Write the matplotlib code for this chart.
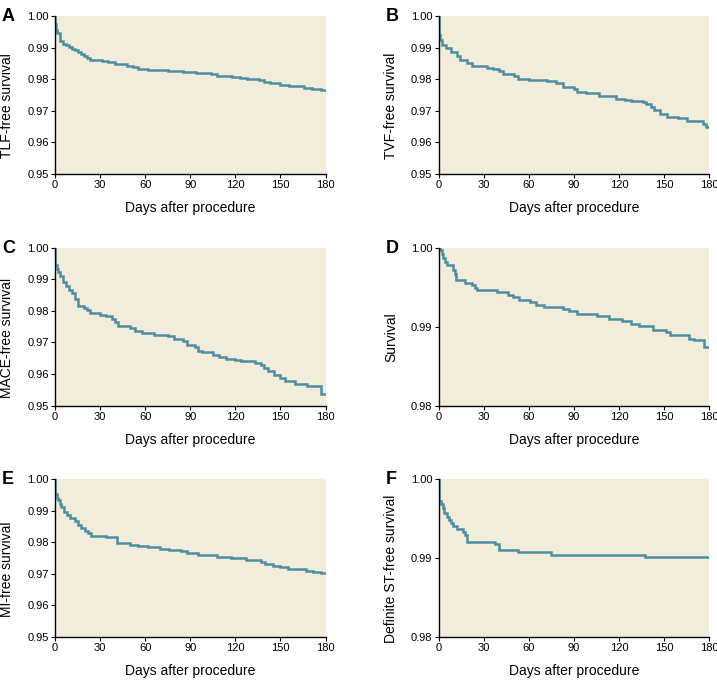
import matplotlib
matplotlib.use("Agg")
import matplotlib.pyplot as plt

plt.rcParams['font.family'] = ['Liberation Sans', 'DejaVu Sans']

# ---- data ----
tlf_t = [0, 0.3, 0.7, 1.5, 3, 5, 7, 9, 11, 13, 15, 17, 19, 21, 23, 31, 35, 40, 48, 52, 55, 62,
         75, 85, 94, 104, 108, 118, 123, 128, 136, 139, 143, 150, 156, 166, 171, 177]
tlf_s = [1.000, 0.9975, 0.9955, 0.9945, 0.9920, 0.9912, 0.9907, 0.9902, 0.9897, 0.9892, 0.9885,
         0.9880, 0.9875, 0.9868, 0.9861, 0.9858, 0.9855, 0.9848, 0.9843, 0.9838, 0.9833, 0.9830,
         0.9827, 0.9823, 0.9819, 0.9815, 0.9811, 0.9808, 0.9805, 0.9801, 0.9798, 0.9792, 0.9787,
         0.9782, 0.9778, 0.9773, 0.9770, 0.9765]

tvf_t = [0, 0.3, 1, 2, 5, 8, 12, 14, 19, 22, 32, 36, 40, 43, 50, 53, 60, 72, 78, 83, 90, 92, 98,
         107, 118, 124, 128, 136, 138, 141, 143, 147, 152, 159, 165, 176, 178]
tvf_s = [1.000, 0.9940, 0.9925, 0.9908, 0.9898, 0.9886, 0.9874, 0.9861, 0.9852, 0.9841, 0.9837,
         0.9832, 0.9826, 0.9816, 0.9810, 0.9802, 0.9798, 0.9794, 0.9787, 0.9776, 0.9770, 0.9761,
         0.9757, 0.9746, 0.9738, 0.9735, 0.9731, 0.9727, 0.9720, 0.9712, 0.9701, 0.9689, 0.9681,
         0.9676, 0.9668, 0.9657, 0.9650]

mace_t = [0, 0.3, 1.5, 2, 3, 5, 7, 9, 11, 13, 15, 19, 21, 23, 30, 34, 38, 40, 42, 50, 53, 58, 66,
          75, 79, 85, 88, 93, 95, 98, 105, 109, 114, 120, 124, 133, 137, 139, 142, 146, 150, 153,
          160, 168, 177]
mace_s = [1.000, 0.9944, 0.9932, 0.9923, 0.9910, 0.9891, 0.9877, 0.9865, 0.9855, 0.9838, 0.9815,
          0.9808, 0.9801, 0.9793, 0.9787, 0.9782, 0.9775, 0.9765, 0.9751, 0.9745, 0.9735, 0.9730,
          0.9724, 0.9720, 0.9709, 0.9703, 0.9693, 0.9685, 0.9671, 0.9668, 0.9661, 0.9654, 0.9648,
          0.9644, 0.9640, 0.9635, 0.9628, 0.9618, 0.9610, 0.9595, 0.9588, 0.9579, 0.9569, 0.9562,
          0.9536]

surv_t = [0, 0.9, 2.2, 3.1, 4.4, 5.3, 9.3, 10.9, 11.5, 17.5, 22.0, 24.2, 25.3, 38.6, 45.9, 49.7,
          53.7, 60.8, 64.6, 70.1, 82.6, 86.8, 91.9, 105.6, 113.0, 121.8, 127.8, 133.4, 142.5,
          151.4, 154.0, 166.7, 169.6, 176.7]
surv_s = [1.000, 0.99970, 0.99915, 0.99865, 0.99814, 0.99776, 0.99721, 0.99666, 0.99585, 0.99556,
          0.99522, 0.99488, 0.99467, 0.99433, 0.99404, 0.99379, 0.99336, 0.99311, 0.99277,
          0.99247, 0.99218, 0.99192, 0.99159, 0.99133, 0.99099, 0.99066, 0.99036, 0.99002,
          0.98960, 0.98930, 0.98888, 0.98841, 0.98824, 0.98739]

mi_t = [0, 0.3, 1, 2, 3, 4, 6, 8, 10, 13, 15, 17, 20, 22, 24, 34, 39, 41, 50, 55, 62, 70, 76, 84,
        88, 95, 108, 117, 127, 137, 140, 145, 150, 155, 167, 172, 177]
mi_s = [1.000, 0.9952, 0.9940, 0.9932, 0.9920, 0.9910, 0.9897, 0.9887, 0.9878, 0.9868, 0.9855,
        0.9845, 0.9836, 0.9830, 0.9821, 0.9818, 0.9815, 0.9798, 0.9792, 0.9789, 0.9785, 0.9780,
        0.9775, 0.9771, 0.9766, 0.9760, 0.9753, 0.9750, 0.9744, 0.9738, 0.9732, 0.9726, 0.9722,
        0.9714, 0.9710, 0.9705, 0.9701]

st_t = [0, 0.4, 1.6, 2.7, 3.8, 5.3, 6.7, 8.0, 9.8, 12.0, 16.4, 17.5, 18.6, 37.5, 39.8, 52.6,
        74.8, 137.4]
st_s = [1.000, 0.99726, 0.99680, 0.99629, 0.99570, 0.99523, 0.99480, 0.99439, 0.99405, 0.99367,
        0.99329, 0.99291, 0.99198, 0.99173, 0.99101, 0.99076, 0.99042, 0.99013]

x_ticks = [0, 30, 60, 90, 120, 150, 180]
y_ticks_wide = [0.95, 0.96, 0.97, 0.98, 0.99, 1.00]
y_ticks_narrow = [0.98, 0.99, 1.00]

panels = [
    ("A", "TLF-free survival", tlf_t, tlf_s, y_ticks_wide),
    ("B", "TVF-free survival", tvf_t, tvf_s, y_ticks_wide),
    ("C", "MACE-free survival", mace_t, mace_s, y_ticks_wide),
    ("D", "Survival", surv_t, surv_s, y_ticks_narrow),
    ("E", "MI-free survival", mi_t, mi_s, y_ticks_wide),
    ("F", "Definite ST-free survival", st_t, st_s, y_ticks_narrow),
]

W, H = 717, 683
fig = plt.figure(figsize=(W / 100, H / 100), dpi=100)
fig.patch.set_facecolor("white")

lefts = [55, 438.7]
tops = [16, 247.5, 479]
ax_w = 270.5
ax_h = 158

bg = "#F2EDDB"
line_c = "#4C8FA2"

for i, (letter, ylabel, t, s, yt) in enumerate(panels):
    col = i % 2
    row = i // 2
    lpx = lefts[col]
    tpx = tops[row]
    ax = fig.add_axes([lpx / W, 1 - (tpx + ax_h) / H, ax_w / W, ax_h / H])
    ax.set_facecolor(bg)
    tt = list(t) + [180]
    ss = list(s) + [s[-1]]
    ax.step(tt, ss, where="post", color=line_c, lw=1.8, solid_joinstyle="miter")
    ax.set_xlim(0, 180)
    ax.set_ylim(yt[0], yt[-1])
    ax.set_xticks(x_ticks)
    ax.set_yticks(yt)
    ax.set_yticklabels([f"{v:.2f}" for v in yt])
    for sp in ["top", "right"]:
        ax.spines[sp].set_visible(False)
    for sp in ["left", "bottom"]:
        ax.spines[sp].set_linewidth(1.0)
        ax.spines[sp].set_color("black")
    ax.tick_params(axis="both", direction="out", length=3, width=0.8, labelsize=8, pad=1.5)
    ax.set_xlabel("Days after procedure", fontsize=10, labelpad=8)
    ax.set_ylabel(ylabel, fontsize=10)
    ax.yaxis.set_label_coords(-0.150, 0.43)
    fig.text((lpx - 53) / W, 1 - (tpx - 8) / H, letter, fontsize=13, fontweight="bold",
             ha="left", va="top")

fig.savefig("out.png", dpi=100)
